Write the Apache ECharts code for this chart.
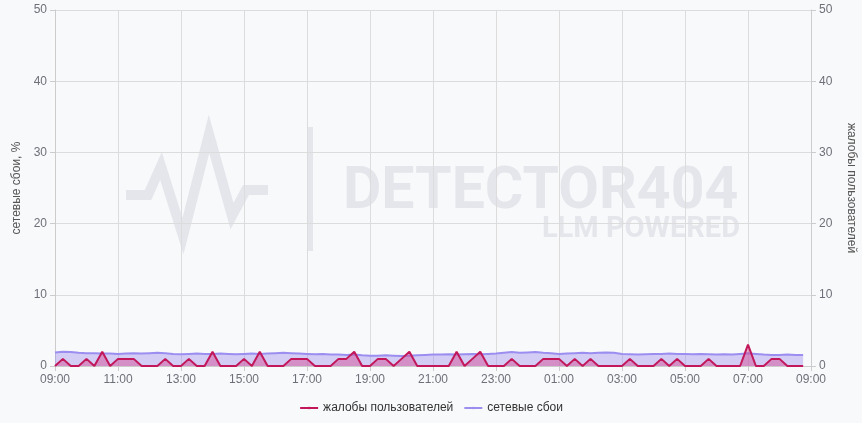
<!DOCTYPE html>
<html><head><meta charset="utf-8">
<script src="https://cdn.jsdelivr.net/npm/echarts@6/dist/echarts.min.js"></script>
<style>html,body{margin:0;padding:0;background:#f8f9fb;}#c{width:862px;height:423px;}</style>
</head><body><div id="c"></div>
<script>
// time categories every 15 minutes from 09:00 to 09:00 next day
const startHour = 9;
const times = [];
for (let i = 0; i <= 96; i++) {
  const m = i * 15;
  const h = (startHour + Math.floor(m / 60)) % 24;
  const mm = m % 60;
  times.push(String(h).padStart(2, '0') + ':' + String(mm).padStart(2, '0'));
}
const complaints = [
  0,1,0,0, 1,0,2,0, 1,1,1,0, 0,0,1,0, 0,1,0,0, 2,0,0,0,
  1,0,2,0, 0,0,1,1, 1,0,0,0, 1,1,2,0, 0,1,1,0, 1,2,0,0,
  0,0,0,2, 0,1,2,0, 0,0,1,0, 0,0,1,1, 1,0,1,0, 1,0,0,0,
  0,1,0,0, 0,1,0,1, 0,0,0,1, 0,0,0,0, 3,0,0,1, 1,0,0,0
];
const networkFailures = [
  1.9,2.0,1.95,1.85, 1.8,1.8,1.75,1.75, 1.7,1.75,1.8,1.75, 1.8,1.85,1.8,1.7,
  1.65,1.7,1.75,1.7, 1.7,1.75,1.7,1.65, 1.7,1.75,1.7,1.75, 1.8,1.85,1.8,1.75,
  1.7,1.65,1.7,1.6, 1.6,1.55,1.6,1.5, 1.45,1.45,1.5,1.45, 1.4,1.45,1.5,1.55,
  1.6,1.6,1.65,1.6, 1.65,1.7,1.65,1.7, 1.75,1.85,1.95,1.85, 1.9,1.95,1.85,1.8,
  1.7,1.75,1.8,1.85, 1.8,1.85,1.9,1.85, 1.7,1.65,1.6,1.65, 1.7,1.7,1.75,1.7,
  1.7,1.65,1.7,1.65, 1.6,1.65,1.6,1.7, 1.8,1.7,1.6,1.55, 1.55,1.6,1.55,1.55
];
const seriesNames = ['жалобы пользователей', 'сетевые сбои'];
const leftAxisName = 'сетевые сбои, %';
const rightAxisName = 'жалобы пользователей';

const FONT = '"Liberation Sans", Arial, sans-serif';
const wm = '#e4e6eb';
const chart = echarts.init(document.getElementById('c'), null, {renderer: 'canvas'});
chart.setOption({
  backgroundColor: '#f8f9fb',
  animation: false,
  textStyle: {fontFamily: FONT},
  graphic: {
    z: -10,
    elements: [
      {type: 'polyline', z: -10, silent: true,
        shape: {points: [[126,195],[148,195],[161,166],[183,236],[209,134],[232,216],[246,190],[268,190]]},
        style: {stroke: wm, lineWidth: 10, fill: null, lineJoin: 'miter'}},
      {type: 'rect', z: -10, silent: true, shape: {x: 308, y: 127, width: 5, height: 124}, style: {fill: wm}},
      {type: 'text', z: -10, silent: true, left: 343, top: 164,
        style: {text: 'DETECTOR404', font: 'bold 59px Roboto', fill: wm}},
      {type: 'text', z: -10, silent: true, right: 122, top: 215,
        style: {text: 'LLM POWERED', font: 'bold 29px Roboto', fill: wm}}
    ]
  },
  grid: {left: 55, right: 51, top: 10, bottom: 57, containLabel: false, outerBoundsMode: 'none'},
  legend: {
    bottom: 4,
    itemWidth: 18, itemHeight: 3, itemGap: 10,
    textStyle: {color: '#333', fontSize: 12, fontFamily: FONT},
    data: seriesNames
  },
  xAxis: {
    type: 'category', boundaryGap: false, data: times,
    axisLine: {show: true, lineStyle: {color: '#ccc'}},
    axisTick: {show: true, interval: 7, lineStyle: {color: '#ccc'}},
    axisLabel: {interval: 7, color: '#6e7079', fontSize: 12, fontFamily: FONT},
    splitLine: {show: true, interval: 7, lineStyle: {color: '#dcdcdc'}}
  },
  yAxis: [
    {type: 'value', min: 0, max: 50, interval: 10, position: 'left',
      name: leftAxisName, nameLocation: 'middle', nameGap: 25, nameRotate: 90,
      nameTextStyle: {color: '#555', fontSize: 12, fontFamily: FONT},
      axisLine: {show: true, lineStyle: {color: '#ccc'}},
      axisTick: {show: true, lineStyle: {color: '#ccc'}},
      axisLabel: {color: '#6e7079', fontSize: 12, fontFamily: FONT},
      splitLine: {show: true, lineStyle: {color: '#dcdcdc'}}},
    {type: 'value', min: 0, max: 50, interval: 10, position: 'right',
      name: rightAxisName, nameLocation: 'middle', nameGap: 34, nameRotate: -90,
      nameTextStyle: {color: '#555', fontSize: 12, fontFamily: FONT},
      axisLine: {show: true, lineStyle: {color: '#ccc'}},
      axisTick: {show: true, lineStyle: {color: '#ccc'}},
      axisLabel: {color: '#6e7079', fontSize: 12, fontFamily: FONT},
      splitLine: {show: false}}
  ],
  series: [
    {name: seriesNames[1], type: 'line', yAxisIndex: 0, data: networkFailures,
      symbol: 'none', z: 2,
      lineStyle: {color: '#9b8ef0', width: 2},
      itemStyle: {color: '#9b8ef0'},
      areaStyle: {color: 'rgba(150,136,240,0.55)'}},
    {name: seriesNames[0], type: 'line', yAxisIndex: 1, data: complaints,
      symbol: 'none', z: 3,
      lineStyle: {color: '#c2185b', width: 2},
      itemStyle: {color: '#c2185b'},
      areaStyle: {color: 'rgba(214,60,130,0.6)'}}
  ]
});
</script></body></html>
